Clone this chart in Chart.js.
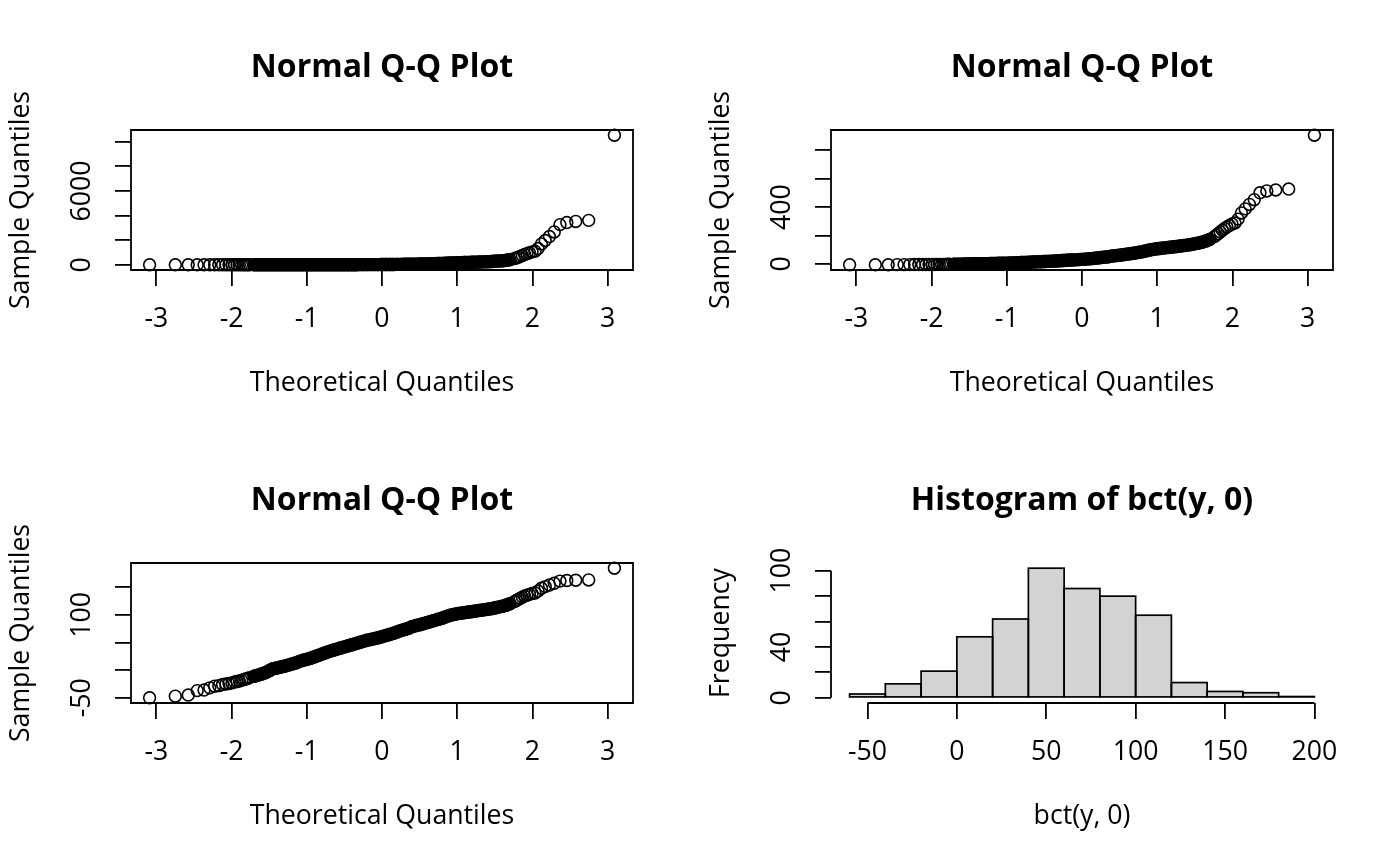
<!DOCTYPE html>
<html>
<head>
<meta charset="utf-8">
<title>Normal Q-Q plots and histogram of bct(y, 0)</title>
<script src="https://cdn.jsdelivr.net/npm/chart.js@4.4.1/dist/chart.umd.min.js"></script>
<style>
  html, body { margin: 0; padding: 0; background: #fff; overflow: hidden; }
  #wrap { position: relative; width: 1400px; height: 866px; }
  #wrap canvas { position: absolute; }
</style>
</head>
<body>
<div id="wrap">
  <canvas id="qqRaw" width="700" height="433" style="left:0;top:0"></canvas>
  <canvas id="qqHalf" width="700" height="433" style="left:700px;top:0"></canvas>
  <canvas id="qqLog" width="700" height="433" style="left:0;top:433px"></canvas>
  <canvas id="histLog" width="700" height="433" style="left:700px;top:433px"></canvas>
</div>
<script>
// Theoretical quantiles shared by the three Q-Q panels (tails point by point, the solid middle band sampled)
const qqTheo = [
  -3.090, -2.748, -2.576, -2.457, -2.366, -2.290, -2.226, -2.170, -2.120, -2.075, -2.034, -1.995,
  -1.960, -1.927, -1.896, -1.866, -1.838, -1.812, -1.787, -1.762,
  -1.70, -1.65, -1.60, -1.55, -1.50, -1.45, -1.40, -1.35, -1.30, -1.25,
  -1.20, -1.15, -1.10, -1.05, -1.00, -0.95, -0.90, -0.85, -0.80, -0.75,
  -0.70, -0.65, -0.60, -0.55, -0.50, -0.45, -0.40, -0.35, -0.30, -0.25,
  -0.20, -0.15, -0.10, -0.05, 0.00, 0.05, 0.10, 0.15, 0.20, 0.25,
  0.30, 0.35, 0.40, 0.45, 0.50, 0.55, 0.60, 0.65, 0.70, 0.75,
  0.80, 0.85, 0.90, 0.95, 1.00, 1.05, 1.10, 1.15, 1.20, 1.25,
  1.30, 1.35, 1.40, 1.45, 1.50, 1.55, 1.60, 1.65, 1.70,
  1.762, 1.787, 1.812, 1.838, 1.866, 1.896, 1.927, 1.960,
  1.995, 2.034, 2.075, 2.120, 2.170, 2.226, 2.290, 2.366, 2.457, 2.576, 2.748, 3.090
];

// Sample quantiles, top left panel (y)
const sampleRaw = [
  0.08, 0.09, 0.10, 0.16, 0.16, 0.20, 0.23, 0.25, 0.27, 0.29, 0.30, 0.32,
  0.34, 0.36, 0.38, 0.40, 0.43, 0.45, 0.47, 0.51,
  0.58, 0.64, 0.70, 0.80, 0.95, 1.13, 1.22, 1.32, 1.42, 1.57,
  1.74, 1.92, 2.18, 2.47, 2.66, 2.95, 3.34, 3.79, 4.29, 4.87,
  5.52, 6.10, 6.75, 7.46, 8.25, 9.13, 10.1, 11.2, 12.3, 13.6,
  15.1, 16.3, 17.5, 18.9, 20.9, 23.1, 25.6, 28.3, 32.1, 36.4,
  40.2, 44.4, 51.7, 57.1, 61.6, 68.1, 75.3, 83.3, 92.1, 101.8,
  112.6, 127.6, 144.7, 156.1, 168.3, 177.0, 186.1, 195.7, 205.8, 216.4,
  227.6, 239.3, 251.6, 264.6, 285.2, 307.6, 331.6, 366.8, 415.8,
  508.5, 562.2, 621.6, 687.3, 759.9, 840.2, 906.2, 977.1,
  1053.7, 1107.6, 1320.6, 1697, 1974, 2295, 2669, 3263, 3432, 3519, 3608, 10523
];

// Sample quantiles, top right panel
const sampleHalf = [
  -6.4, -6.2, -6.1, -5.4, -5.3, -4.9, -4.6, -4.5, -4.3, -4.2, -4.0, -3.9,
  -3.7, -3.6, -3.5, -3.3, -3.1, -3.0, -2.8, -2.6,
  -2.2, -1.8, -1.4, -1.0, -0.2, 0.6, 0.9, 1.3, 1.7, 2.3,
  2.8, 3.5, 4.3, 5.1, 5.7, 6.4, 7.4, 8.5, 9.6, 10.8,
  12.1, 13.1, 14.3, 15.5, 16.7, 18.1, 19.4, 20.9, 22.4, 24.1,
  25.8, 27.1, 28.5, 29.9, 31.9, 34.0, 36.2, 38.6, 41.6, 44.9,
  47.7, 50.6, 55.3, 58.6, 61.2, 64.8, 68.6, 72.6, 76.8, 81.2,
  85.8, 92.0, 98.5, 102.6, 106.9, 109.9, 112.9, 116.0, 119.2, 122.4,
  125.8, 129.2, 132.7, 136.3, 141.9, 147.7, 153.7, 162.1, 173.2,
  192.4, 202.8, 213.7, 225.2, 237.3, 249.9, 259.9, 270.2,
  280.9, 288.3, 315.6, 359.0, 387.8, 418.9, 452.4, 501.2, 514.2, 520.8, 527.5, 907.1
];

// Sample quantiles, bottom left panel (bct(y, 0))
const sampleLog = [
  -50, -47, -45, -37, -36, -32, -29, -28, -26, -25, -24, -23,
  -21.5, -20.5, -19.5, -18.5, -17, -16, -15, -13.5,
  -11, -9, -7, -4.5, -1, 2.5, 4, 5.5, 7, 9,
  11, 13, 15.5, 18, 19.5, 21.5, 24, 26.5, 29, 31.5,
  34, 36, 38, 40, 42, 44, 46, 48, 50, 52,
  54, 55.5, 57, 58.5, 60.5, 62.5, 64.5, 66.5, 69, 71.5,
  73.5, 75.5, 78.5, 80.5, 82, 84, 86, 88, 90, 92,
  94, 96.5, 99, 100.5, 102, 103, 104, 105, 106, 107,
  108, 109, 110, 111, 112.5, 114, 115.5, 117.5, 120,
  124, 126, 128, 130, 132, 134, 135.5, 137,
  138.5, 139.5, 143, 148, 151, 154, 157, 161, 162, 162.5, 163, 184.3
];

// Histogram of bct(y, 0)
const histBreaks = [-60, -40, -20, 0, 20, 40, 60, 80, 100, 120, 140, 160, 180, 200];
const histCounts = [3, 11, 21, 48, 62, 102, 86, 80, 65, 12, 5, 4, 1];

// Tick values and the labels R kept (overlapping ones are dropped)
const qqXTicks = [-3, -2, -1, 0, 1, 2, 3];
const qqXLabels = ['-3', '-2', '-1', '0', '1', '2', '3'];
const rawYTicks = [0, 2000, 4000, 6000, 8000, 10000];
const rawYLabels = ['0', '', '', '6000', '', ''];
const halfYTicks = [0, 200, 400, 600, 800];
const halfYLabels = ['0', '', '400', '', ''];
const logYTicks = [-50, 0, 50, 100, 150];
const logYLabels = ['-50', '', '', '100', ''];
const histXTicks = [-50, 0, 50, 100, 150, 200];
const histXLabels = ['-50', '0', '50', '100', '150', '200'];
const histYTicks = [0, 20, 40, 60, 80, 100];
const histYLabels = ['0', '', '40', '', '', '100'];

const FONT = "'Open Sans', 'Noto Sans', sans-serif";
const TEXT_SIZE = 26.7;
const MAIN_SIZE = 32;
const INK = '#000';
const LW = 1.8;
const POINT_R = 5.9;
const POINT_LW = 1.6;
// where 500 overplotted circles merge into one solid band
const BAND_LIMIT = 1.75;

Chart.defaults.font.family = FONT;
Chart.defaults.color = INK;

// R pads the data range by 4% on each side
function rLimits(values) {
  const lo = Math.min(...values);
  const hi = Math.max(...values);
  const pad = (hi - lo) * 0.04;
  return { min: lo - pad, max: hi + pad };
}

// rotated y labels are centred 49px left of the plot edge, whatever their width
function labelPad(labels) {
  const ctx = document.createElement('canvas').getContext('2d');
  ctx.font = `${TEXT_SIZE}px ${FONT}`;
  const widest = Math.max(...labels.map(l => ctx.measureText(l).width));
  return 33 - widest / 2;
}

function axis(lim, ticks, labels, title, vertical) {
  return {
    type: 'linear',
    min: lim.min,
    max: lim.max,
    bounds: 'data',
    offset: false,
    afterBuildTicks: s => { s.ticks = ticks.map(v => ({ value: v })); },
    afterFit: s => { if (vertical) s.width = 131; else s.height = 163; },
    border: { display: false },
    grid: {
      display: true, offset: false, drawOnChartArea: false, drawTicks: true,
      tickLength: 16, color: INK, lineWidth: LW,
    },
    ticks: vertical ? {
      autoSkip: false, minRotation: 90, maxRotation: 90, crossAlign: 'center',
      padding: labelPad(labels), font: { size: TEXT_SIZE }, color: INK,
      callback: (v, i) => labels[i],
    } : {
      autoSkip: false, minRotation: 0, maxRotation: 0, padding: 17,
      font: { size: TEXT_SIZE }, color: INK,
      callback: (v, i) => labels[i],
    },
    title: {
      display: true, text: title, color: INK, font: { size: TEXT_SIZE },
      padding: vertical ? { top: 5, bottom: 0 } : { top: 0, bottom: 34 },
    },
  };
}

// box round the Q-Q panels; short axis lines (first to last tick) for the histogram
const frame = {
  id: 'frame',
  afterDraw(chart, args, opts) {
    const { ctx, chartArea: a, scales: { x, y } } = chart;
    ctx.save();
    ctx.strokeStyle = INK;
    ctx.lineWidth = LW;
    ctx.beginPath();
    if (opts.box) {
      ctx.rect(a.left, a.top, a.right - a.left, a.bottom - a.top);
    } else {
      const xt = x.ticks, yt = y.ticks;
      ctx.moveTo(x.getPixelForValue(xt[0].value), a.bottom);
      ctx.lineTo(x.getPixelForValue(xt[xt.length - 1].value), a.bottom);
      ctx.moveTo(a.left, y.getPixelForValue(yt[0].value));
      ctx.lineTo(a.left, y.getPixelForValue(yt[yt.length - 1].value));
    }
    ctx.stroke();
    ctx.restore();
  },
};

// R strokes each histogram rectangle on its edges, so neighbours share one line
const barOutline = {
  id: 'barOutline',
  afterDatasetsDraw(chart) {
    const { ctx } = chart;
    ctx.save();
    ctx.strokeStyle = INK;
    ctx.lineWidth = 1.7;
    chart.getDatasetMeta(0).data.forEach(bar => {
      const { x, y, base, width } = bar.getProps(['x', 'y', 'base', 'width'], true);
      ctx.strokeRect(x - width / 2, Math.min(y, base), width, Math.abs(base - y));
    });
    ctx.restore();
  },
};

function baseOptions(mainTitle, box) {
  return {
    responsive: false,
    animation: false,
    events: [],
    layout: { padding: { left: 0, top: 0, right: 67, bottom: 0 } },
    plugins: {
      legend: { display: false },
      tooltip: { enabled: false },
      title: {
        display: true, text: mainTitle, fullSize: false, color: INK,
        font: { size: MAIN_SIZE, weight: 'bold' },
        padding: { top: 48.8, bottom: 42.8 },
      },
      frame: { box },
    },
  };
}

function inBand(c) {
  return Math.abs(c.p0.parsed.x) <= BAND_LIMIT && Math.abs(c.p1.parsed.x) <= BAND_LIMIT;
}

function qqChart(id, sample, yTicks, yLabels) {
  const opts = baseOptions('Normal Q-Q Plot', true);
  opts.scales = {
    x: axis(rLimits(qqTheo), qqXTicks, qqXLabels, 'Theoretical Quantiles', false),
    y: axis(rLimits(sample), yTicks, yLabels, 'Sample Quantiles', true),
  };
  const points = qqTheo.map((x, i) => ({ x, y: sample[i] }));
  return new Chart(document.getElementById(id), {
    type: 'scatter',
    data: {
      datasets: [{
        // the circles
        data: points,
        showLine: false,
        pointRadius: POINT_R,
        pointBorderWidth: POINT_LW,
        pointBackgroundColor: 'rgba(0,0,0,0)',
        pointBorderColor: INK,
        clip: false,
      }, {
        // where the circles overlap completely they read as one thick black band
        data: points,
        showLine: true,
        pointRadius: 0,
        borderWidth: 2 * POINT_R + POINT_LW,
        borderColor: INK,
        borderCapStyle: 'round',
        borderJoinStyle: 'round',
        segment: { borderColor: c => (inBand(c) ? INK : 'rgba(0,0,0,0)') },
        clip: false,
      }],
    },
    options: opts,
    plugins: [frame],
  });
}

qqChart('qqRaw', sampleRaw, rawYTicks, rawYLabels);
qqChart('qqHalf', sampleHalf, halfYTicks, halfYLabels);
qqChart('qqLog', sampleLog, logYTicks, logYLabels);

(function histChart() {
  const mids = histCounts.map((c, i) => (histBreaks[i] + histBreaks[i + 1]) / 2);
  const opts = baseOptions('Histogram of bct(y, 0)', false);
  opts.scales = {
    x: axis(rLimits(histBreaks), histXTicks, histXLabels, 'bct(y, 0)', false),
    y: axis(rLimits([0, ...histCounts]), histYTicks, histYLabels, 'Frequency', true),
  };
  new Chart(document.getElementById('histLog'), {
    type: 'bar',
    data: {
      datasets: [{
        data: mids.map((m, i) => ({ x: m, y: histCounts[i] })),
        backgroundColor: '#D3D3D3',
        borderWidth: 0,
        inflateAmount: 0,
        barPercentage: 1,
        categoryPercentage: 1,
      }],
    },
    options: opts,
    plugins: [frame, barOutline],
  });
})();
</script>
</body>
</html>
